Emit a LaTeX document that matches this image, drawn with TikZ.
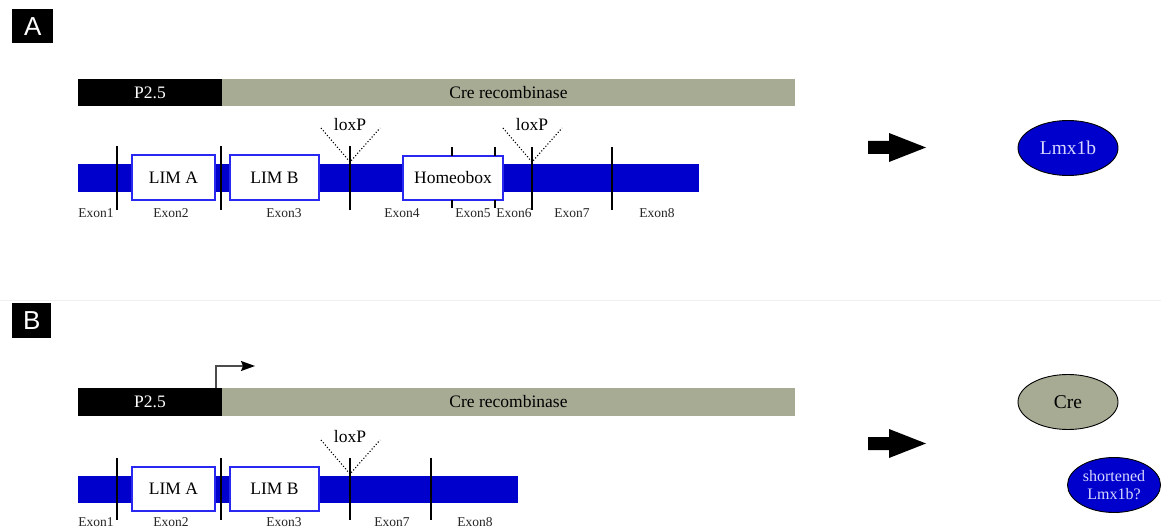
\documentclass[tikz,border=0pt]{standalone}
\usepackage{fontspec}
\setmainfont{Liberation Serif}
\newfontfamily\labfont{Liberation Sans}
\usetikzlibrary{shapes.geometric,arrows.meta}
\definecolor{genblue}{RGB}{0,0,204}
\definecolor{boxblue}{RGB}{40,40,240}
\definecolor{cregray}{RGB}{168,171,148}
\definecolor{lav}{RGB}{215,215,255}
\tikzset{
  bar/.style={draw=none, inner sep=0pt, outer sep=0pt, anchor=north west, font=\fontsize{17.5}{20}\selectfont},
  dom/.style={draw=boxblue, line width=1.4pt, fill=white, inner sep=0pt, outer sep=0pt, anchor=north west, font=\fontsize{17.5}{20}\selectfont},
  exon/.style={font=\fontsize{13.5}{15}\selectfont, text=black!85, inner sep=0pt},
  lox/.style={font=\fontsize{17.5}{20}\selectfont, inner sep=0pt},
  cut/.style={line width=1.6pt},
  dots/.style={dotted, line width=1.1pt},
  panel/.style={fill=black, text=white, inner sep=0pt, anchor=north west, font=\labfont\fontsize{26}{28}\selectfont},
  prot/.style={ellipse, draw=black, line width=0.9pt, inner sep=0pt, font=\fontsize{19.5}{22}\selectfont},
  bigarrow/.style={fill=black}
}
\begin{document}
\begin{tikzpicture}[x=1pt,y=-1pt]
\useasboundingbox (0,0) rectangle (1161,529);
\fill[white] (0,0) rectangle (1161,529);
% separator
\draw[black!6, line width=0.8pt] (0,300) -- (1161,300);

% ---------------- Panel A ----------------
\node[panel, minimum width=41, minimum height=34] (labA) at (12,9) {A};
\node[bar, fill=black, text=white, minimum width=144, minimum height=27] (pA) at (78,79) {P2.5};
\node[bar, fill=cregray, minimum width=573, minimum height=27] (creA) at (222,79) {Cre recombinase};
\node[bar, fill=genblue, minimum width=621, minimum height=28] (geneA) at (78,164) {};
\node[dom, minimum width=83, minimum height=45] (limaA) at (132,155) {LIM A};
\node[dom, minimum width=89, minimum height=45] (limbA) at (230,155) {LIM B};
\node[dom, minimum width=100, minimum height=44] (homA) at (403,156) {Homeobox};
\draw[cut] (117,146) -- (117,210);
\draw[cut] (221,146) -- (221,210);
\draw[cut] (350,146) -- (350,210);
\draw[cut] (532,147) -- (532,210);
\draw[cut] (612,147) -- (612,210);
\draw[cut] (452,147) -- (452,156) (452,200) -- (452,208);
\draw[cut] (495,147) -- (495,156) (495,200) -- (495,208);
\coordinate (lxA1) at (350,162);
\coordinate (lxA2) at (532,162);
\draw[dots] (321,128) -- (lxA1) -- (380,128);
\draw[dots] (503,128) -- (lxA2) -- (562,128);
\node[lox] (loxA1) at (350,125) {loxP};
\node[lox] (loxA2) at (532,125) {loxP};
\node[exon] (eA1) at (96,213) {Exon1};
\node[exon] (eA2) at (171,213) {Exon2};
\node[exon] (eA3) at (284,213) {Exon3};
\node[exon] (eA4) at (402,213) {Exon4};
\node[exon] (eA5) at (473,213) {Exon5};
\node[exon] (eA6) at (514,213) {Exon6};
\node[exon] (eA7) at (572,213) {Exon7};
\node[exon] (eA8) at (657,213) {Exon8};
\fill[bigarrow] (868,141) -- (889,141) -- (889,133) -- (926,147.5) -- (889,162) -- (889,154) -- (868,154) -- cycle;
\node[prot, fill=genblue, text=lav, minimum width=100, minimum height=55] (lmxA) at (1068,148) {Lmx1b};

% ---------------- Panel B ----------------
\node[panel, minimum width=39, minimum height=35] (labB) at (12,303) {B};
\node[bar, fill=black, text=white, minimum width=144, minimum height=28] (pB) at (78,388) {P2.5};
\node[bar, fill=cregray, minimum width=573, minimum height=28] (creB) at (222,388) {Cre recombinase};
\coordinate (tssB) at (216,388);
\coordinate (tssC) at (216,366);
\coordinate (tssE) at (255,366);
\draw[line width=1.4pt, black!70, -{Stealth[length=14pt,width=10pt,inset=2pt,black]}] (tssB) -- (tssC) -- (tssE);
\node[bar, fill=genblue, minimum width=440, minimum height=27] (geneB) at (78,476) {};
\node[dom, minimum width=83, minimum height=44] (limaB) at (132,467) {LIM A};
\node[dom, minimum width=89, minimum height=44] (limbB) at (230,467) {LIM B};
\draw[cut] (117,458) -- (117,520);
\draw[cut] (221,458) -- (221,520);
\draw[cut] (350,458) -- (350,520);
\draw[cut] (431,458) -- (431,520);
\coordinate (lxB1) at (350,474);
\draw[dots] (321,440) -- (lxB1) -- (380,440);
\node[lox] (loxB1) at (350,437) {loxP};
\node[exon] (eB1) at (96,522) {Exon1};
\node[exon] (eB2) at (171,522) {Exon2};
\node[exon] (eB3) at (284,522) {Exon3};
\node[exon] (eB7) at (392,522) {Exon7};
\node[exon] (eB8) at (475,522) {Exon8};
\fill[bigarrow] (868,437) -- (889,437) -- (889,429) -- (926,443.5) -- (889,458) -- (889,450) -- (868,450) -- cycle;
\node[prot, fill=cregray, text=black, minimum width=100, minimum height=55] (creP) at (1068,402) {Cre};
\node[prot, fill=genblue, text=lav, minimum width=93, minimum height=55, align=center, font=\fontsize{16}{18}\selectfont] (lmxB) at (1114,485) {shortened\\Lmx1b?};
\end{tikzpicture}
\end{document}
